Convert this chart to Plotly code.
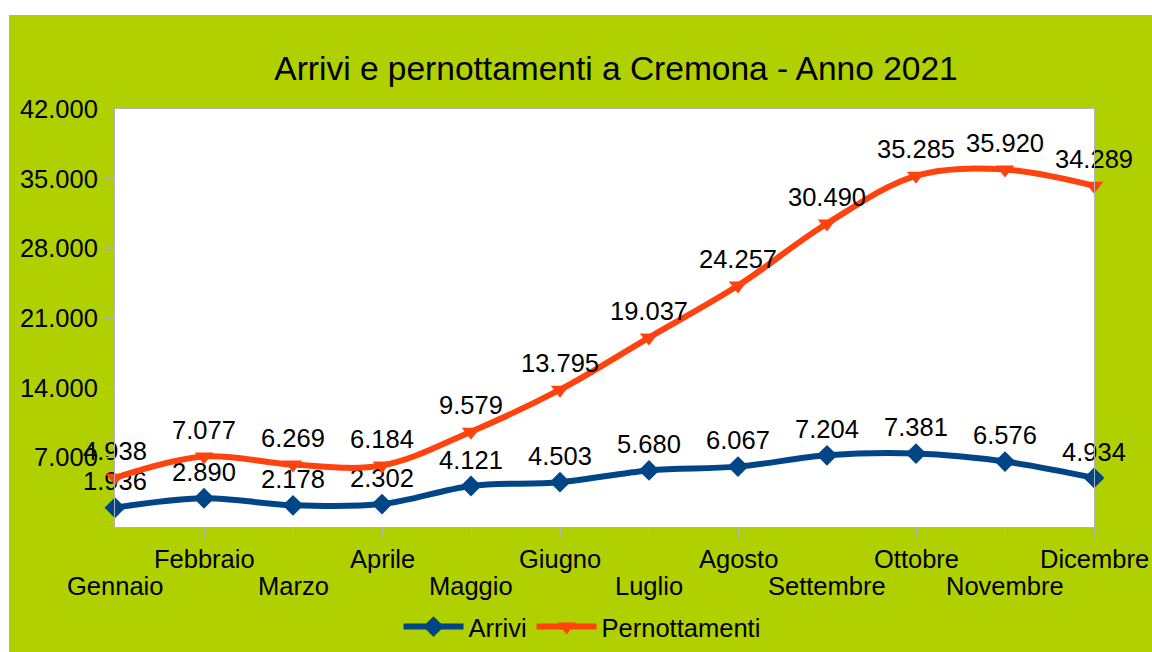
import plotly.graph_objects as go

months = ["Gennaio", "Febbraio", "Marzo", "Aprile", "Maggio", "Giugno",
          "Luglio", "Agosto", "Settembre", "Ottobre", "Novembre", "Dicembre"]
arrivi = [1936, 2890, 2178, 2302, 4121, 4503, 5680, 6067, 7204, 7381, 6576, 4934]
pernottamenti = [4938, 7077, 6269, 6184, 9579, 13795, 19037, 24257, 30490, 35285, 35920, 34289]
y_ticks = [0, 7000, 14000, 21000, 28000, 35000, 42000]
y_ticktext = ["", "7.000", "14.000", "21.000", "28.000", "35.000", "42.000"]

FONT = "Liberation Sans, Arial, sans-serif"
GREEN = "#b0d000"
GRAY = "#b3b3b3"
FS = 25.5

def fmt(v):
    return f"{v:,}".replace(",", ".")

fig = go.Figure()
fig.add_trace(go.Scatter(
    x=months, y=arrivi, name="Arrivi", mode="lines+markers+text",
    line=dict(color="#004586", width=6, shape="spline", smoothing=1),
    marker=dict(symbol="diamond", size=16, color="#004586"),
    text=[fmt(v) for v in arrivi], textposition="top center",
    textfont=dict(family=FONT, size=FS, color="black"), cliponaxis=False,
))
fig.add_trace(go.Scatter(
    x=months, y=pernottamenti, name="Pernottamenti", mode="lines+markers+text",
    line=dict(color="#ff420e", width=6, shape="spline", smoothing=1),
    marker=dict(symbol="triangle-down", size=16, color="#ff420e"),
    text=[fmt(v) for v in pernottamenti], textposition="top center",
    textfont=dict(family=FONT, size=FS, color="black"), cliponaxis=False,
))

W, H = 1152, 652
PH = 418  # plot height in px
PW = 979  # plot width in px
L, T = 115, 109

annotations = []
for i, m in enumerate(months):
    annotations.append(dict(
        x=m, xref="x", yref="paper", y=(-32 if i % 2 == 1 else -59) / PH,
        text=m, showarrow=False, yanchor="middle", xanchor="center",
        font=dict(family=FONT, size=FS, color="black"),
    ))

fig.update_layout(
    width=W, height=H,
    margin=dict(l=L, r=W - L - PW, t=T, b=H - T - PH),
    paper_bgcolor=GREEN, plot_bgcolor="white",
    font=dict(family=FONT, size=FS, color="black"),
    title=dict(text="Arrivi e pernottamenti a Cremona - Anno 2021",
               x=616 / W, xanchor="center", xref="container",
               y=1 - 68 / H, yanchor="middle", yref="container",
               font=dict(family=FONT, size=33.5, color="black")),
    showlegend=True,
    legend=dict(orientation="h", x=582 / W, xref="container", xanchor="center",
                y=1 - 627 / H, yref="container", yanchor="middle",
                font=dict(family=FONT, size=FS, color="black"),
                bgcolor="rgba(0,0,0,0)", itemwidth=60),
    annotations=annotations,
    shapes=[
        dict(type="rect", xref="paper", yref="paper",
             x0=-0.2, x1=1.2, y0=(PH + T - 15) / PH, y1=1.5,
             fillcolor="white", line=dict(width=0), layer="below"),
        dict(type="rect", xref="paper", yref="paper",
             x0=-0.3, x1=(9 - L) / PW, y0=-0.5, y1=1.5,
             fillcolor="white", line=dict(width=0), layer="below"),
    ],
)
fig.update_xaxes(
    type="category", range=[0, 11], showgrid=False, showticklabels=False,
    showline=True, linecolor=GRAY, linewidth=1, mirror=True,
    ticks="outside", ticklen=10, tickcolor=GRAY, zeroline=False,
)
fig.update_yaxes(
    range=[0, 42000], tickvals=y_ticks, ticktext=y_ticktext, showgrid=False,
    showline=True, linecolor=GRAY, linewidth=1, mirror=True,
    ticks="outside", ticklen=11, tickcolor=GRAY, zeroline=False,
    tickfont=dict(family=FONT, size=FS, color="black"),
)

fig.write_html("out.html", config={"displayModeBar": False},
               post_script="document.body.style.margin='0';"
                           "document.body.style.padding='0';"
                           "document.documentElement.style.overflow='hidden';")
